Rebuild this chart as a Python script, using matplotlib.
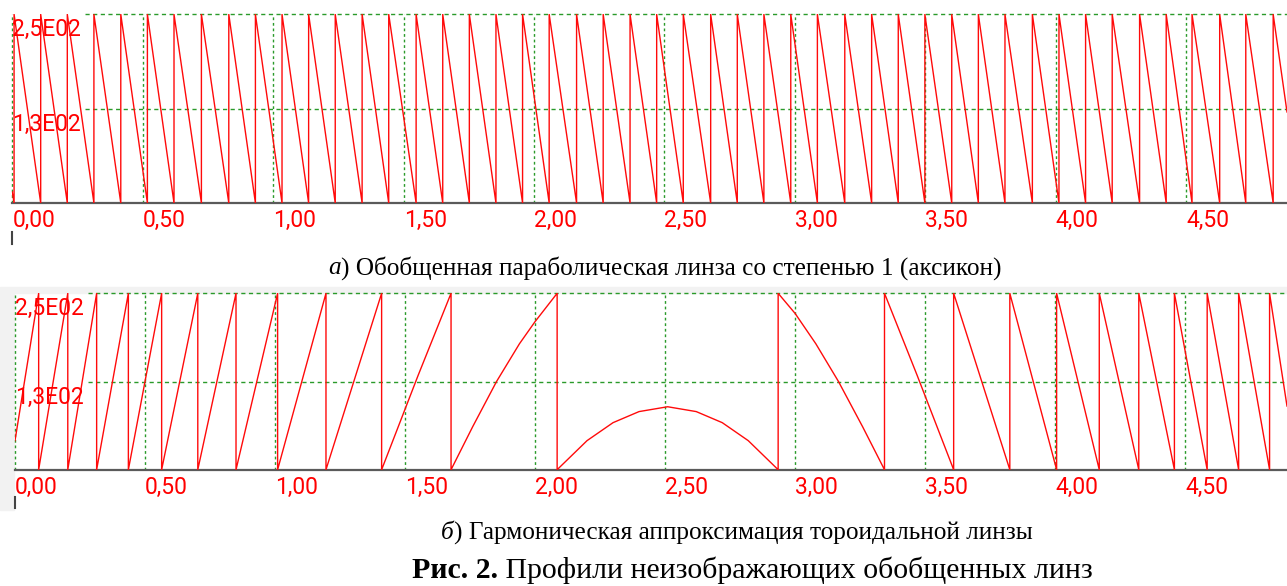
import numpy as np
import matplotlib
matplotlib.use('Agg')
import matplotlib.pyplot as plt
from matplotlib.patches import Rectangle

#------------------------------------------------------------------------------#
# Phase profiles (0..255) of two non-imaging generalized lenses.
#------------------------------------------------------------------------------#

# a) axicon: positions of the 0 -> 255 jumps, ramps fall linearly between them
top_jumps = [0.007, 0.109, 0.211, 0.313, 0.416, 0.518, 0.620, 0.725, 0.830,
             0.932, 1.034, 1.136, 1.238, 1.341, 1.443, 1.548, 1.650, 1.752,
             1.854, 1.956, 2.058, 2.163, 2.265, 2.368, 2.470, 2.572, 2.677,
             2.779, 2.881, 2.984, 3.086, 3.191, 3.294, 3.396, 3.498, 3.601,
             3.703, 3.805, 3.910, 4.012, 4.114, 4.216, 4.321, 4.423, 4.522,
             4.628, 4.728, 4.833]
top_start = 15.0     # value at x = 0
top_end   = 123.0    # value at the right edge
top_xmax  = 4.886

# b) harmonic approximation of a toroidal lens
bot_drops = [0.091, 0.203, 0.314, 0.436, 0.564, 0.703, 0.850, 1.010, 1.196,
             1.410, 1.677, 2.085]                       # 255 -> 0
bot_rises = [2.935, 3.344, 3.610, 3.826, 4.006, 4.170, 4.322, 4.459, 4.585,
             4.706, 4.825]                              # 0 -> 255
bot_bend_x = [1.55, 1.76, 1.852, 1.94, 2.00, 2.20, 2.30, 2.40, 2.51, 2.62,
              2.72, 2.82, 3.00, 3.08, 3.167, 3.26, 3.47]
bot_bend_y = [136, 62, 127.5, 182, 214, 42, 68, 84, 91, 84,
              68, 42, 226, 182, 127.5, 62, 136]
bot_start = 42.0
bot_end   = 92.0
bot_xmax  = 4.892

x_ticks  = [0.0, 0.5, 1.0, 1.5, 2.0, 2.5, 3.0, 3.5, 4.0, 4.5]
x_labels = ['0,00', '0,50', '1,00', '1,50', '2,00', '2,50', '3,00', '3,50',
            '4,00', '4,50']
y_ticks  = [127.5, 255.0]
y_labels = ['1,3E02', '2,5E02']

cap_a = ') Обобщенная параболическая линза со степенью 1 (аксикон)'
cap_b = ') Гармоническая аппроксимация тороидальной линзы'
cap_fig = ' Профили неизображающих обобщенных линз'

#------------------------------------------------------------------------------#

W, H = 1287, 586
grid_c = '#2a9a2a'
line_c = '#ff0a0a'
tick_font = 'Roboto'
tick_size = 16.5


def profile(x0, y0, x1, y1, drops=(), rises=(), bend_x=(), bend_y=()):
    # build the polyline; a vertical jump is two points at the same x
    pts = [(x0, 0, y0), (x1, 2, y1)]
    for x in drops:
        pts += [(x, 0, 255.0), (x, 1, 0.0)]
    for x in rises:
        pts += [(x, 0, 0.0), (x, 1, 255.0)]
    for x, y in zip(bend_x, bend_y):
        pts.append((x, 0, y))
    pts.sort()
    return [p[0] for p in pts], [p[2] for p in pts]


def make_axes(fig, left, top, right, bottom):
    # box given in pixels of the final picture
    return fig.add_axes([left / W, 1 - bottom / H, (right - left) / W,
                         (bottom - top) / H])


def setup(ax, xmax):
    ax.set_xlim(0, xmax)
    ax.set_ylim(0, 255)
    for s in ['top', 'right', 'left']:
        ax.spines[s].set_visible(False)
    ax.spines['bottom'].set_color('#5a5a5a')
    ax.spines['bottom'].set_linewidth(1.6)
    ax.set_xticks(x_ticks)
    ax.set_xticklabels(x_labels, color='red', fontsize=tick_size,
                       family=tick_font, ha='left')
    ax.tick_params(axis='x', length=0, pad=4.5)
    ax.set_yticks([])
    ax.patch.set_alpha(0)

    for xt in x_ticks:
        ax.axvline(xt, color=grid_c, ls=(0, (2, 2)), lw=1.0, clip_on=False,
                   zorder=0)
    for yt in y_ticks:
        ax.axhline(yt, xmin=0.057, xmax=1, color=grid_c, ls=(0, (3, 2.5)),
                   lw=1.0, clip_on=False, zorder=0)
    for yt, lab in zip(y_ticks, y_labels):
        ax.annotate(lab, xy=(0, yt), xycoords=('axes fraction', 'data'),
                    xytext=(0, -4), textcoords='offset pixels', ha='left',
                    va='top', color='red', fontsize=tick_size,
                    family=tick_font, zorder=5)
    # small leftover axis stub under the labels
    ax.plot([0, 0], [-0.155, -0.215], transform=ax.transAxes, color='#444444',
            lw=1.5, clip_on=False)


def rich_line(fig, xc, yc, parts, width=None, size=None):
    # styled pieces of text centred on (xc, yc) px; either fitted to a
    # total width or drawn at a given font size
    r = fig.canvas.get_renderer()
    texts = [fig.text(0, 1 - yc / H, s, fontsize=10, va='center', ha='left',
                      family='Liberation Serif', **kw) for s, kw in parts]
    w0 = sum(t.get_window_extent(r).width for t in texts)
    fs = size if size is not None else 10 * width / w0
    for t in texts:
        t.set_fontsize(fs)
    widths = [t.get_window_extent(r).width for t in texts]
    x = xc - sum(widths) / 2
    for t, w in zip(texts, widths):
        t.set_x(x / W)
        x += w
    return fs


def main():

    fig = plt.figure(figsize=(W / 100, H / 100), dpi=100)
    fig.patch.set_facecolor('white')

    # light grey frame of the lower chart component
    fig.patches.append(Rectangle((0, 1 - 293 / H), 1, 6 / H,
                                 transform=fig.transFigure, color='#f2f2f2',
                                 zorder=-10))
    fig.patches.append(Rectangle((0, 1 - 510 / H), 14 / W, 218 / H,
                                 transform=fig.transFigure, color='#f2f2f2',
                                 zorder=-10))

    # a) axicon
    ax1 = make_axes(fig, 12.25, 14.3, W, 203)
    setup(ax1, top_xmax)
    tx, ty = profile(0, top_start, top_xmax, top_end, rises=top_jumps)
    ax1.plot(tx, ty, color=line_c, lw=1.0, zorder=3)

    # b) toroidal lens
    ax2 = make_axes(fig, 15, 293.3, W, 469.7)
    setup(ax2, bot_xmax)
    bx, by = profile(0, bot_start, bot_xmax, bot_end, drops=bot_drops,
                     rises=bot_rises, bend_x=bot_bend_x, bend_y=bot_bend_y)
    ax2.plot(bx, by, color=line_c, lw=1.0, zorder=3)

    # captions (sub-captions share one size)
    fs = rich_line(fig, 665, 268, [('а', {'style': 'italic'}), (cap_a, {})],
                   width=677)
    rich_line(fig, 737, 533, [('б', {'style': 'italic'}), (cap_b, {})],
              size=fs)
    rich_line(fig, 752, 570, [('Рис. 2.', {'weight': 'bold'}),
                              (cap_fig, {})], width=682)

    fig.savefig('out.png', dpi=100)


if __name__ == '__main__':
    main()
